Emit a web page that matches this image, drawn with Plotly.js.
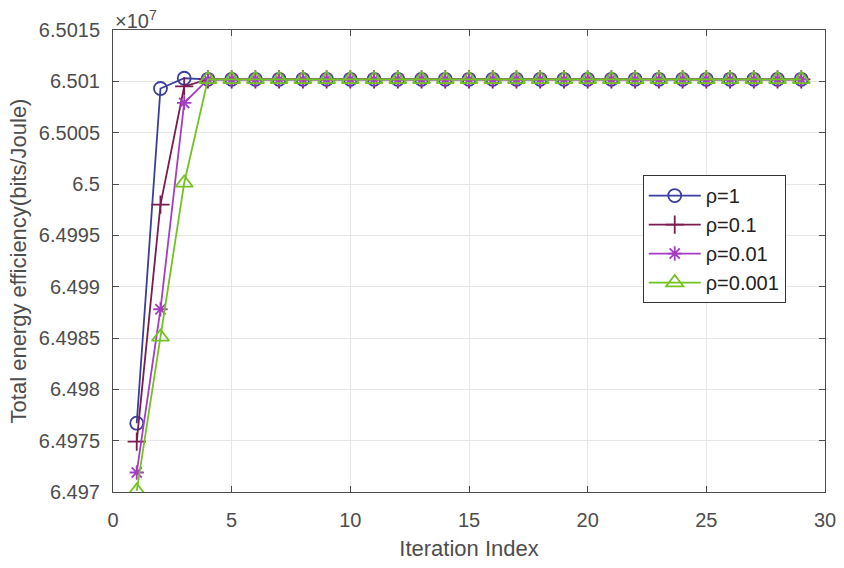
<!DOCTYPE html>
<html>
<head>
<meta charset="utf-8">
<script src="https://cdn.plot.ly/plotly-3.0.1.min.js"></script>
<style>html,body{margin:0;padding:0;background:#fff;}#chart{width:844px;height:568px;}</style>
</head>
<body>
<div id="chart"></div>
<script>
// Iteration index 1..29
const iterations = [1,2,3,4,5,6,7,8,9,10,11,12,13,14,15,16,17,18,19,20,21,22,23,24,25,26,27,28,29];
// Total energy efficiency in units of 1e7 bits/Joule
const conv = 6.50102;
const rho1    = [6.49767, 6.50093, 6.50103, conv,conv,conv,conv,conv,conv,conv,conv,conv,conv,conv,conv,conv,conv,conv,conv,conv,conv,conv,conv,conv,conv,conv,conv,conv,conv];
const rho01   = [6.49749, 6.49980, 6.50095, conv,conv,conv,conv,conv,conv,conv,conv,conv,conv,conv,conv,conv,conv,conv,conv,conv,conv,conv,conv,conv,conv,conv,conv,conv,conv];
const rho001  = [6.49719, 6.49878, 6.50079, conv,conv,conv,conv,conv,conv,conv,conv,conv,conv,conv,conv,conv,conv,conv,conv,conv,conv,conv,conv,conv,conv,conv,conv,conv,conv];
const rho0001 = [6.49701, 6.49851, 6.50001, conv,conv,conv,conv,conv,conv,conv,conv,conv,conv,conv,conv,conv,conv,conv,conv,conv,conv,conv,conv,conv,conv,conv,conv,conv,conv];
const seriesNames = ['ρ=1','ρ=0.1','ρ=0.01','ρ=0.001'];
const yTickVals = [6.497,6.4975,6.498,6.4985,6.499,6.4995,6.5,6.5005,6.501,6.5015];
const yTickText = ['6.497','6.4975','6.498','6.4985','6.499','6.4995','6.5','6.5005','6.501','6.5015'];
const xTickVals = [0,5,10,15,20,25,30];

const colors = ['#3a3f9e','#7b1b4f','#a53cc4','#72c321'];
const symbols = ['circle-open','cross-thin-open','asterisk-open','triangle-up-open'];
const sizes = [13,13,12,15];
const ys = [rho1, rho01, rho001, rho0001];

const traces = ys.map((y,i)=>({
  x: iterations, y: y, name: seriesNames[i], type:'scatter', mode:'lines+markers',
  line:{color:colors[i], width:1.8},
  marker:{symbol:symbols[i], size:sizes[i], color:colors[i], line:{color:colors[i], width:1.8}}
}));

const FF = 'Liberation Sans, Arial, sans-serif';
const tickFont = {family:FF, size:20, color:'#4d4d4d'};
const layout = {
  width:844, height:568,
  margin:{l:113, r:19, t:30, b:76},
  paper_bgcolor:'#fff', plot_bgcolor:'#fff',
  showlegend:true,
  legend:{x:0.744, y:0.686, xanchor:'left', yanchor:'top', bgcolor:'#fff', bordercolor:'#333', borderwidth:1,
          font:{family:FF, size:20, color:'#222'}, tracegroupgap:0, itemwidth:52},
  xaxis:{range:[0,30], tickvals:xTickVals, showgrid:true, gridcolor:'#e6e6e6', gridwidth:1,
         zeroline:false, showline:true, linecolor:'#4d4d4d', linewidth:1, mirror:'ticks',
         ticks:'inside', ticklen:6, tickcolor:'#4d4d4d', tickfont:tickFont, ticklabelstandoff:10,
         title:{text:'Iteration Index', font:{family:FF, size:22, color:'#4d4d4d'}, standoff:10}},
  yaxis:{range:[6.497,6.5015], tickvals:yTickVals, ticktext:yTickText, showgrid:true, gridcolor:'#e6e6e6', gridwidth:1,
         zeroline:false, showline:true, linecolor:'#4d4d4d', linewidth:1, mirror:'ticks',
         ticks:'inside', ticklen:6, tickcolor:'#4d4d4d', tickfont:tickFont, ticklabelstandoff:8,
         title:{text:'Total energy efficiency(bits/Joule)', font:{family:FF, size:22, color:'#4d4d4d'}, standoff:6}},
  annotations:[{xref:'paper', yref:'paper', x:0, y:1, xanchor:'left', yanchor:'bottom', yshift:-4, showarrow:false,
    text:'×10<sup>7</sup>', font:{family:FF, size:20, color:'#4d4d4d'}}]
};
Plotly.newPlot('chart', traces, layout, {displayModeBar:false, staticPlot:true});
</script>
</body>
</html>
